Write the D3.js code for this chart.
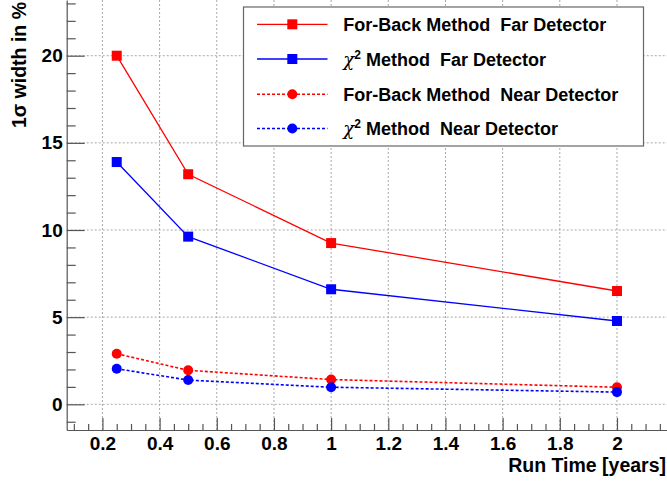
<!DOCTYPE html>
<html><head><meta charset="utf-8">
<script src="https://cdn.jsdelivr.net/npm/d3@7"></script>
<style>
html,body{margin:0;padding:0;background:#fff;}
svg{display:block;font-family:'Liberation Sans',Arial,Helvetica,sans-serif;font-weight:bold;}
text{white-space:pre;}
</style></head>
<body>
<svg id="c" width="667" height="483"></svg>
<script>
// ---- data ----
const runTime = [0.25, 0.5, 1, 2];
const forBackFar = [20.0, 13.2, 9.25, 6.5];
const chi2Far = [13.9, 9.62, 6.6, 4.78];
const forBackNear = [2.9, 1.95, 1.42, 0.98];
const chi2Near = [2.04, 1.39, 0.98, 0.7];
const xMajorTicks = [0.2, 0.4, 0.6, 0.8, 1, 1.2, 1.4, 1.6, 1.8, 2];
const yMajorTicks = [0, 5, 10, 15, 20];
const xTitle = "Run Time [years]";
const yTitle = "1σ width in %";
const seriesNames = ["For-Back Method  Far Detector", "χ2 Method  Far Detector", "For-Back Method  Near Detector", "χ2 Method  Near Detector"];

const svg = d3.select("#c");
const L = 66.7, R = 667, T = 0, B = 430;
const x = d3.scaleLinear().domain([0.075, 2.175]).range([L, R]);
const y = d3.scaleLinear().domain([-1.474, 23.196]).range([B, T]);

const xMinor = d3.range(0.1, 2.175, 0.05).map(v => +v.toFixed(2)).filter(v => !xMajorTicks.some(m => Math.abs(m - v) < 1e-6));
const yMinor = d3.range(-1, 24, 1).filter(v => v % 5 !== 0);

// grid
const grid = svg.append("g").attr("stroke", "#a8a8a8").attr("stroke-width", 1).attr("stroke-dasharray", "2,2");
xMajorTicks.forEach(v => grid.append("line").attr("x1", x(v)).attr("x2", x(v)).attr("y1", T).attr("y2", B));
yMajorTicks.forEach(v => grid.append("line").attr("x1", L).attr("x2", R).attr("y1", y(v)).attr("y2", y(v)));

const axisColor = "#555";
// x axis
const gxm = svg.append("g").attr("transform", `translate(0,${B})`)
  .call(d3.axisBottom(x).tickValues(xMinor).tickSize(-6).tickFormat(""));
const gx = svg.append("g").attr("transform", `translate(0,${B})`)
  .call(d3.axisBottom(x).tickValues(xMajorTicks).tickSizeInner(-12).tickSizeOuter(0).tickPadding(7).tickFormat(d3.format("")));
// y axis
const gym = svg.append("g").attr("transform", `translate(${L},0)`)
  .call(d3.axisLeft(y).tickValues(yMinor).tickSize(-9).tickFormat(""));
const gy = svg.append("g").attr("transform", `translate(${L},0)`)
  .call(d3.axisLeft(y).tickValues(yMajorTicks).tickSizeInner(-18).tickSizeOuter(0).tickPadding(4).tickFormat(d3.format("")));
[gxm, gx, gym, gy].forEach(g => {
  g.selectAll("line").attr("stroke", axisColor).attr("stroke-width", 1.2);
  g.selectAll("path").attr("stroke", axisColor).attr("stroke-width", 1.2);
  g.selectAll("text").attr("font-size", 19).attr("font-weight", "bold").attr("fill", "#000").attr("font-family", "'Liberation Sans',Arial,sans-serif");
});
gxm.select("path").remove(); gym.select("path").remove();

// titles
svg.append("text").attr("x", 666).attr("y", 472).attr("text-anchor", "end")
  .attr("font-size", 19.5).text(xTitle);
svg.append("text").attr("transform", "translate(26,2) rotate(-90)").attr("text-anchor", "end")
  .attr("font-size", 19.5).text(yTitle);

// series
const series = [
  {vals: forBackFar, color: "#ff0000", dash: null, marker: "square"},
  {vals: chi2Far, color: "#0000ff", dash: null, marker: "square"},
  {vals: forBackNear, color: "#ff0000", dash: "3,2", marker: "circle"},
  {vals: chi2Near, color: "#0000ff", dash: "3,2", marker: "circle"}
];
const line = d3.line().x(d => x(d[0])).y(d => y(d[1]));
function marker(g, type, cx, cy, color) {
  if (type === "square") g.append("rect").attr("x", cx - 5).attr("y", cy - 5).attr("width", 10).attr("height", 10).attr("fill", color);
  else g.append("circle").attr("cx", cx).attr("cy", cy).attr("r", 5).attr("fill", color);
}
series.forEach(s => {
  const pts = runTime.map((t, i) => [t, s.vals[i]]);
  svg.append("path").attr("d", line(pts)).attr("fill", "none").attr("stroke", s.color)
    .attr("stroke-width", s.dash ? 1.6 : 1.3).attr("stroke-dasharray", s.dash);
  const g = svg.append("g");
  pts.forEach(p => marker(g, s.marker, x(p[0]), y(p[1]), s.color));
});

// legend
const lg = svg.append("g");
lg.append("rect").attr("x", 243.5).attr("y", 7).attr("width", 400).attr("height", 139)
  .attr("fill", "#fff").attr("stroke", "#666").attr("stroke-width", 1.2);
const rowY = [24.3, 59, 94.3, 128.5];
series.forEach((s, i) => {
  lg.append("line").attr("x1", 257).attr("x2", 327.5).attr("y1", rowY[i]).attr("y2", rowY[i])
    .attr("stroke", s.color).attr("stroke-width", s.dash ? 1.6 : 1.3).attr("stroke-dasharray", s.dash);
  marker(lg, s.marker, 292.3, rowY[i], s.color);
  const t = lg.append("text").attr("x", 343.3).attr("y", rowY[i] + 6.5).attr("font-size", 18);
  const name = seriesNames[i];
  if (name.startsWith("χ2")) {
    t.append("tspan").attr("font-family", "'DejaVu Serif',serif").attr("font-style", "italic").attr("font-weight", "normal").text("χ");
    t.append("tspan").attr("font-size", 12).attr("dy", -7).text("2");
    t.append("tspan").attr("dy", 7).text(name.slice(2));
  } else t.text(name);
});
</script>
</body></html>
